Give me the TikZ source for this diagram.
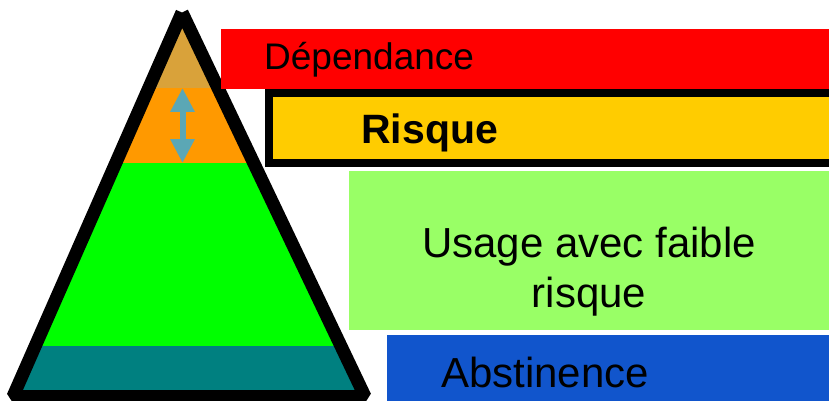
\documentclass[tikz,border=0pt]{standalone}
\usepackage{fontspec}
\setmainfont{Liberation Sans}
\usetikzlibrary{arrows.meta}
\definecolor{tanband}{HTML}{D9A23A}
\definecolor{orangeband}{HTML}{FF9900}
\definecolor{greenband}{HTML}{00FF00}
\definecolor{tealband}{HTML}{008080}
\definecolor{redbox}{HTML}{FF0000}
\definecolor{yellowbox}{HTML}{FFCC00}
\definecolor{lightgreenbox}{HTML}{99FF66}
\definecolor{bluebox}{HTML}{1155CC}
\definecolor{arrowcol}{HTML}{5BA7B5}
\tikzset{
  lbl/.style={inner sep=0pt, anchor=base west, text=black},
  pyrline/.style={line width=13pt, line join=bevel, line cap=butt, draw=black},
}
\begin{document}
\begin{tikzpicture}[x=1pt,y=-1pt]
\useasboundingbox (0,0) rectangle (829,401);
% pyramid vertices (stroke centreline)
\coordinate (apex) at (182,12.5);
\coordinate (bl) at (13,396.5);
\coordinate (br) at (365,396.5);
\begin{scope}
  \clip (apex) -- (bl) -- (br) -- cycle;
  \fill[tanband] (0,0) rectangle (400,88);
  \fill[orangeband] (0,88) rectangle (400,163);
  \fill[greenband] (0,163) rectangle (400,346);
  \fill[tealband] (0,346) rectangle (400,401);
\end{scope}
\draw[pyrline] (apex) -- (bl) -- (br) -- (apex);
% double arrow
\coordinate (atop) at (182.5,88);
\coordinate (abot) at (182.5,163);
\draw[arrowcol, line width=6pt,
  {Triangle[width=23pt,length=24pt]}-{Triangle[width=23pt,length=24pt]}]
  (atop) -- (abot);
% boxes
\fill[redbox] (221,29) rectangle (829,89);
\fill[yellowbox] (269,93) rectangle (829,163);
\draw[black, line width=8pt] (269,93) rectangle (833,163);
\fill[lightgreenbox] (349,171) rectangle (829,330);
\fill[bluebox] (387,335) rectangle (829,401);
% labels
\node[lbl, font=\fontsize{37}{44}\selectfont] (dep) at (264,70) {Dépendance};
\node[lbl, font=\fontsize{41}{48}\selectfont\bfseries] (ris) at (361,143) {Risque};
\node[inner sep=0pt, align=center, anchor=base, font=\fontsize{42}{50}\selectfont] (usa) at (589,307)
  {Usage avec faible\\risque};
\node[lbl, font=\fontsize{42}{50}\selectfont] (abs) at (441,387) {Abstinence};
\end{tikzpicture}
\end{document}
